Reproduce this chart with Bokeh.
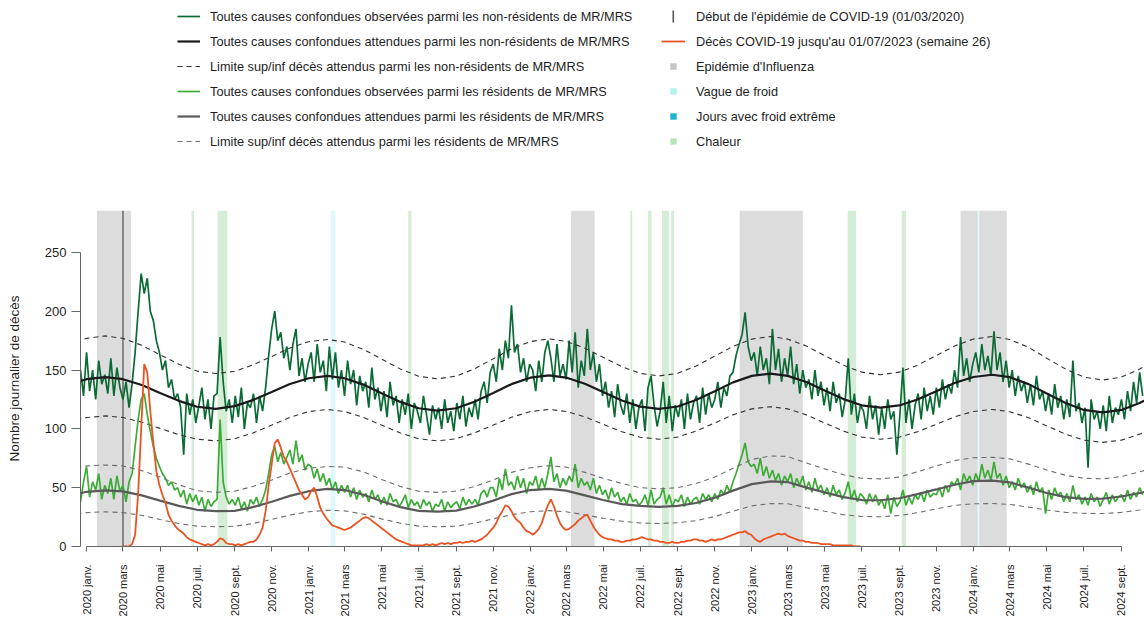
import math
import pandas as pd
from bokeh.plotting import figure
from bokeh.layouts import column
from bokeh.models import (Range1d, FixedTicker, CustomJSTickFormatter, Legend,
                          LegendItem, BoxAnnotation)
from bokeh.embed import file_html
from bokeh.resources import INLINE

# ------------------------------------------------------------------ data
obs_first_day = "2019-12-22"
obs_step = "5D"

# daily deaths, non-residents of MR/MRS (one reading every 5 days)
nonres_observed = [
    150, 128,
    165, 132, 150, 125, 158, 138, 146,
    130, 160, 128, 152, 135,
    125, 140, 118, 138, 165, 200, 232,
    215, 228, 200, 192, 175, 165,
    150, 158, 135, 142, 125, 130,
    118, 78, 130, 112, 125, 105,
    120, 135, 108, 125, 100, 128,
    130, 178, 140, 115, 125, 105,
    128, 110, 135, 100, 122, 118,
    130, 105, 128, 115, 135, 162,
    185, 200, 175, 182, 160, 170,
    150, 172, 185, 145, 160, 140, 155,
    165, 140, 172, 148, 158, 132,
    170, 142, 165, 135, 150,
    128, 158, 138, 150, 120, 145, 132,
    140, 118, 152, 125, 135, 115,
    132, 110, 140, 120, 128, 105,
    125, 112, 130, 100, 122, 115,
    105, 128, 112, 95, 120, 108,
    118, 100, 125, 105, 115, 98,
    122, 108, 128, 102, 118, 110,
    125, 108, 132, 140, 122, 148,
    155, 140, 168, 150, 175, 160,
    205, 165, 172, 148, 160, 140, 155,
    150, 132, 158, 140, 165, 175,
    160, 140, 172, 145, 155,
    142, 175, 148, 182, 135, 158, 145,
    185, 150, 165, 140, 155, 128,
    140, 118, 132, 110, 138, 120,
    112, 130, 105, 125, 100, 118,
    125, 98, 135, 145, 120, 102,
    115, 140, 105, 128, 98, 120,
    110, 125, 100, 130, 108, 122,
    128, 105, 135, 112, 130, 118,
    125, 140, 118, 135, 128, 145,
    148, 162, 172, 180, 199, 170, 158,
    165, 145, 170, 150, 160, 138,
    185, 150, 168, 140, 160,
    145, 170, 138, 155, 130, 150, 135,
    142, 125, 150, 128, 140, 120,
    135, 115, 140, 122, 130, 110,
    125, 160, 112, 130, 105, 120,
    115, 100, 128, 108, 120, 95,
    118, 100, 125, 108, 115, 78,
    112, 152, 105, 125, 100, 120,
    130, 108, 135, 115, 128, 112,
    135, 118, 142, 125, 138, 130,
    150, 135, 178, 145, 160, 140, 155,
    165, 148, 172, 150, 162, 145,
    183, 150, 165, 140, 158, 135,
    150, 128, 145, 132, 140, 122,
    138, 120, 145, 125, 132, 115,
    130, 112, 138, 118, 128, 108,
    125, 110, 158, 115, 122, 105,
    118, 67, 125, 108, 115, 100,
    120, 98, 128, 105, 118, 112,
    125, 108, 132, 115, 140, 122,
    148, 128,
]

# daily deaths, residents of MR/MRS (one reading every 5 days)
res_observed = [
    38, 55,
    68, 42, 55, 48, 62, 40, 52,
    45, 58, 40, 60, 47,
    52, 38, 55, 62, 85, 108, 125,
    130, 112, 98, 85, 75, 68,
    62, 58, 52, 55, 48, 50,
    42, 48, 36, 45, 38, 44,
    35, 42, 30, 40, 34, 38,
    40, 108, 55, 42, 36, 40,
    35, 42, 32, 38, 30, 40,
    36, 42, 34, 40, 48, 62,
    78, 85, 72, 80, 70, 76,
    82, 70, 90, 72, 78, 65, 70,
    68, 58, 66, 55, 62, 52,
    58, 48, 55, 45, 52,
    46, 52, 42, 50, 40, 48, 42,
    45, 38, 48, 40, 44, 36,
    42, 35, 45, 38, 40, 34,
    38, 44, 33, 40, 35, 38,
    32, 40, 35, 38, 30, 36,
    34, 40, 30, 38, 33, 36,
    38, 32, 42, 35, 40, 36,
    40, 35, 45, 48, 42, 50,
    50, 42, 58, 48, 66, 52,
    55, 48, 60, 50, 58, 45, 55,
    52, 60, 48, 58, 50, 62,
    76, 55, 62, 50, 58,
    52, 60, 55, 70, 50, 58, 52,
    55, 48, 58, 45, 52, 44,
    48, 40, 50, 42, 46, 38,
    42, 36, 45, 38, 40, 35,
    38, 44, 35, 48, 36, 40,
    42, 50, 36, 44, 34, 40,
    38, 44, 34, 42, 36, 40,
    42, 36, 45, 40, 44, 38,
    45, 40, 48, 44, 52, 46,
    55, 62, 70, 78, 88, 72, 68,
    70, 62, 75, 60, 68, 58,
    65, 56, 62, 52, 60,
    55, 62, 50, 58, 52, 60, 48,
    55, 46, 58, 48, 52, 44,
    50, 42, 52, 44, 48, 40,
    46, 55, 40, 48, 38, 45,
    42, 36, 45, 38, 44, 35,
    40, 32, 44, 28, 42, 34,
    38, 48, 35, 42, 36, 44,
    40, 46, 38, 48, 42, 45,
    44, 50, 42, 52, 46, 55,
    52, 58, 48, 62, 55, 60, 52,
    62, 55, 70, 58, 65, 56,
    72, 58, 62, 52, 60, 50,
    55, 48, 58, 50, 54, 46,
    52, 44, 55, 46, 50, 28,
    48, 40, 50, 43, 46, 38,
    45, 38, 52, 40, 44, 36,
    42, 35, 45, 38, 42, 34,
    40, 46, 36, 44, 38, 42,
    44, 38, 48, 40, 46, 42,
    50, 44,
]

covid_first_day = "2020-03-01"
covid_deaths = [
    0, 0, 0, 2, 10, 45, 100,
    155, 148, 115, 88, 64, 52,
    44, 37, 27, 22, 18, 15,
    13, 11, 8, 6, 5, 4,
    3, 2, 1, 2, 1, 2,
    4, 7, 6, 3, 2, 2,
    1, 2, 1, 2, 3, 4,
    4, 6, 10, 16, 30, 52,
    70, 88, 91, 84, 76, 72,
    66, 60, 54, 48, 44, 40, 42,
    47, 50, 42, 33, 28, 24,
    21, 18, 17, 16, 15,
    14, 15, 16, 18, 20, 22, 24,
    25, 24, 22, 20, 18, 16,
    14, 12, 10, 8, 6, 5,
    4, 3, 2, 1, 1, 1,
    1, 1, 2, 1, 2, 1,
    2, 3, 2, 3, 2, 3,
    3, 4, 3, 4, 4, 5,
    4, 5, 6, 8, 10, 13,
    16, 20, 26, 30, 35, 34,
    30, 25, 22, 20, 16, 13, 12,
    10, 12, 15, 20, 28, 35,
    40, 34, 26, 20, 16,
    14, 15, 17, 19, 22, 24, 26,
    27, 22, 17, 13, 10, 8,
    7, 6, 6, 5, 5, 4,
    4, 5, 5, 6, 6, 7,
    8, 7, 6, 6, 5, 5,
    4, 4, 3, 3, 4, 3,
    3, 4, 4, 5, 5, 6,
    6, 5, 5, 4, 5, 6,
    5, 6, 6, 7, 8, 9,
    10, 11, 12, 12, 13, 11, 10,
    7, 5, 4, 6, 7, 8,
    9, 10, 11, 10, 11,
    9, 8, 7, 6, 5, 5, 4,
    4, 3, 3, 3, 2, 2,
    2, 2, 1, 1, 1, 1,
    1, 1, 1, 0, 0, 0,
]

# expected deaths and limits, read on the 1st of each month
curve_first_month = "2019-12-01"
nonres_expected = [
    137.5,
    142.2, 144, 142.2, 137.3, 130.5, 123.8, 118.8, 117, 119.3, 124.4, 131.3, 138.1,
    143, 145, 143, 137.6, 130.3, 122.9, 117.5, 115.5, 117.5, 123, 130.5, 138,
    143.5, 145.5, 143.6, 138.4, 131.3, 124.1, 118.9, 117, 119, 124.5, 132, 139.5,
    145, 147, 145, 139.8, 132.5, 125.3, 120, 118, 119.9, 125, 132, 139,
    144.1, 146, 143.9, 138, 130, 122, 116.1, 114, 116.1, 122, 130,
]
nonres_upper = [
    171,
    176.9, 179, 176.9, 171, 163, 155, 149.1, 147, 148.9, 154.3, 161.5, 168.8,
    174.1, 176, 173.8, 167.6, 159.3, 150.9, 144.7, 142.5, 144.8, 151, 159.5, 168,
    174.2, 176.5, 174.4, 168.6, 160.8, 152.9, 147.1, 145, 147.2, 153.4, 161.8, 170.1,
    176.3, 178.5, 176.3, 170.4, 162.3, 154.1, 148.2, 146, 148.2, 154.1, 162.3, 170.4,
    176.3, 178.5, 176, 169.3, 160, 150.8, 144, 141.5, 144, 150.8, 160,
]
nonres_lower = [
    105.7,
    109.6, 111, 109.6, 105.7, 100.4, 95.1, 91.2, 89.8, 91.6, 96.5, 103.2, 109.8,
    114.7, 116.5, 114.7, 109.8, 103.2, 96.5, 91.6, 89.8, 91.6, 96.5, 103.2, 109.8,
    114.7, 116.5, 114.8, 110.2, 103.9, 97.5, 92.9, 91.2, 93, 98.1, 105, 111.9,
    117, 118.8, 117, 111.9, 105, 98.1, 93, 91.2, 92.9, 97.5, 103.9, 110.2,
    114.8, 116.5, 114.6, 109.5, 102.5, 95.5, 90.4, 88.5, 90.4, 95.5, 102.5,
]
res_expected = [
    42.5,
    46.5, 47.7, 46.8, 43.5, 39, 34.5, 31.2, 30, 30.3, 33.5, 38, 43,
    47, 49, 48, 44, 38.5, 33.5, 30.3, 29.7, 30.5, 34, 39, 44.5,
    48, 49, 47.5, 43.5, 39.5, 36, 34.5, 33.7, 34.5, 37, 41.5, 47.5,
    53, 55.3, 54.8, 50, 46, 42, 39.5, 39.3, 41, 44.5, 48.5, 52.5,
    55.5, 56, 54.5, 50, 45.5, 42, 40.5, 40.7, 42.5, 45.5, 49,
]
res_upper = [
    64.5,
    68.5, 69.3, 68.5, 64.5, 59, 52.5, 47.5, 46, 47, 51, 56.5, 62.5,
    66.5, 68, 67.5, 63.5, 57, 51, 47, 46, 47, 51, 56.5, 63,
    67, 68.7, 67.5, 63, 58, 53.5, 50, 49, 50, 53.5, 59, 66.5,
    74, 77, 76.5, 71, 66, 61, 58, 57.5, 59, 63.5, 68.5, 73,
    75.5, 75.8, 74.5, 70, 65, 60.5, 58, 57.5, 59.5, 63.5, 68,
]
res_lower = [
    26,
    28.8, 29.5, 28.8, 26.5, 23, 19.5, 17.3, 16.8, 17.2, 19.5, 23, 26.8,
    29.5, 30.8, 30.3, 27.5, 23.5, 19.8, 17.3, 16.8, 17.3, 19.8, 23.5, 27,
    29.5, 30.5, 29.5, 27, 24, 21.5, 20, 19.6, 20.2, 22, 25.5, 30,
    34.5, 36.5, 36.3, 33, 30, 27, 25.5, 25.3, 26.3, 28.8, 32, 35,
    36.3, 36.5, 35.8, 33.5, 31, 29, 28.2, 28, 29, 31, 33.5,
]

covid_onset = "2020-03-01"
flu_start = ["2020-01-18", "2022-03-09", "2022-12-12", "2023-12-11"]
flu_end = ["2020-03-14", "2022-04-17", "2023-03-26", "2024-02-25"]
cold_start = ["2021-02-06", "2024-01-08"]
cold_end = ["2021-02-14", "2024-01-11"]
heat_start = ["2020-06-22", "2020-08-04", "2021-06-14", "2022-06-15",
              "2022-07-14", "2022-08-06", "2022-08-21", "2023-06-08", "2023-09-05"]
heat_end = ["2020-06-26", "2020-08-20", "2021-06-19", "2022-06-18",
            "2022-07-20", "2022-08-18", "2022-08-26", "2023-06-22", "2023-09-12"]

view_start, view_end = "2019-12-22", "2024-10-09"
tick_first, tick_last = "2020-01-01", "2024-09-01"
month_fr = {1: "janv.", 3: "mars", 5: "mai", 7: "juil.", 9: "sept.", 11: "nov."}
y_ticks = [0, 50, 100, 150, 200, 250]

legend_left_labels = [
    "Toutes causes confondues observées parmi les non-résidents de MR/MRS",
    "Toutes causes confondues attendues parmi les non-résidents de MR/MRS",
    "Limite sup/inf décès attendus parmi les non-résidents de MR/MRS",
    "Toutes causes confondues observées parmi les résidents de MR/MRS",
    "Toutes causes confondues attendues parmi les résidents de MR/MRS",
    "Limite sup/inf décès attendus parmi les résidents de MR/MRS",
]
legend_right_labels = [
    "Début de l'épidémie de COVID-19 (01/03/2020)",
    "Décès COVID-19 jusqu'au 01/07/2023 (semaine 26)",
    "Epidémie d'Influenza",
    "Vague de froid",
    "Jours avec froid extrême",
    "Chaleur",
]
y_title = "Nombre journalier de décès"


# ------------------------------------------------------------------ helpers
def ms(dates):
    idx = pd.DatetimeIndex(pd.to_datetime(dates)).as_unit("ns")
    return [float(v // 10**6) for v in idx.asi8]


obs_x = ms(pd.date_range(obs_first_day, periods=len(nonres_observed), freq=obs_step))
res_x = ms(pd.date_range(obs_first_day, periods=len(res_observed), freq=obs_step))
covid_x = ms(pd.date_range(covid_first_day, periods=len(covid_deaths), freq=obs_step))
curve_x = ms(pd.date_range(curve_first_month, periods=len(nonres_expected), freq="MS"))

tick_dates = pd.date_range(tick_first, tick_last, freq="2MS")
tick_ms = ms(tick_dates)
tick_labels = [f"{d.year} {month_fr[d.month]}" for d in tick_dates]

FONT = "Liberation Sans"
TXT = "#1e1e1e"
NAN = float("nan")

# styles
S_NR_OBS = dict(line_color="#0b6b35", line_width=1.7)
S_NR_EXP = dict(line_color="#1a1a1a", line_width=2.2)
S_NR_LIM = dict(line_color="#333333", line_width=1.1, line_dash="5 4")
S_R_OBS = dict(line_color="#3dab37", line_width=1.7)
S_R_EXP = dict(line_color="#5a5a5a", line_width=2.2)
S_R_LIM = dict(line_color="#6e6e6e", line_width=1.1, line_dash="5 4")
S_COV = dict(line_color="#eb5322", line_width=1.8)

# ------------------------------------------------------------------ main plot
Y_TOP = 285.6
p = figure(width=1144, height=409, output_backend="svg", toolbar_location=None,
           x_range=Range1d(ms([view_start])[0], ms([view_end])[0]),
           y_range=Range1d(0, Y_TOP),
           min_border_left=80, min_border_right=0, min_border_top=0,
           min_border_bottom=70, outline_line_color=None,
           background_fill_color="white", border_fill_color="white")
p.xgrid.visible = False
p.ygrid.visible = False

p.quad(left=ms(flu_start), right=ms(flu_end), bottom=0, top=Y_TOP,
       fill_color="#dcdcdc", line_color=None)
p.quad(left=ms(cold_start), right=ms(cold_end), bottom=0, top=Y_TOP,
       fill_color="#defafa", line_color=None)
p.quad(left=ms(heat_start), right=ms(heat_end), bottom=0, top=Y_TOP,
       fill_color="#d5edd5", line_color=None)

onset_x = ms([covid_onset])
p.segment(x0=onset_x, x1=onset_x, y0=[0], y1=[Y_TOP],
          line_color="#4d4d4d", line_width=1.2)

p.line(obs_x, nonres_observed, **S_NR_OBS)
p.line(curve_x, nonres_expected, **S_NR_EXP)
p.line(curve_x, nonres_upper, **S_NR_LIM)
p.line(curve_x, nonres_lower, **S_NR_LIM)
p.line(res_x, res_observed, **S_R_OBS)
p.line(curve_x, res_expected, **S_R_EXP)
p.line(curve_x, res_upper, **S_R_LIM)
p.line(curve_x, res_lower, **S_R_LIM)
p.line(covid_x, covid_deaths, **S_COV)

p.yaxis.ticker = FixedTicker(ticks=y_ticks)
p.yaxis.bounds = (y_ticks[0], y_ticks[-1])
p.yaxis.major_tick_out = 9
p.yaxis.major_tick_in = 0
p.yaxis.minor_tick_line_color = None
p.yaxis.major_label_standoff = 5
p.yaxis.major_label_text_font = FONT
p.yaxis.major_label_text_font_size = "13px"
p.yaxis.major_label_text_color = TXT
p.yaxis.axis_line_color = "#666666"
p.yaxis.major_tick_line_color = "#666666"
p.yaxis.axis_label = y_title
p.yaxis.axis_label_text_font = FONT
p.yaxis.axis_label_text_font_style = "normal"
p.yaxis.axis_label_text_font_size = "13.5px"
p.yaxis.axis_label_text_color = TXT
p.yaxis.axis_label_standoff = 20

p.xaxis.ticker = FixedTicker(ticks=tick_ms)
p.xaxis.formatter = CustomJSTickFormatter(
    args=dict(tick_vals=tick_ms, tick_text=tick_labels),
    code="const i = tick_vals.indexOf(tick); return i >= 0 ? tick_text[i] : '';")
p.xaxis.bounds = (tick_ms[0], tick_ms[-1])
p.xaxis.major_label_orientation = math.pi / 2
p.xaxis.major_tick_out = 5
p.xaxis.major_tick_in = 0
p.xaxis.minor_tick_line_color = None
p.xaxis.major_label_standoff = 13
p.xaxis.major_label_text_font = FONT
p.xaxis.major_label_text_font_size = "11px"
p.xaxis.major_label_text_color = TXT
p.xaxis.axis_line_color = "#666666"
p.xaxis.major_tick_line_color = "#666666"

# ------------------------------------------------------------------ legend panel
# (its frame is aligned with the main plot's frame, i.e. starts 80 px from the left)
lg = figure(width=1144, height=210, output_backend="svg", toolbar_location=None,
            x_axis_location=None, y_axis_location=None, min_border=0,
            x_range=Range1d(0, 1), y_range=Range1d(0, 1), outline_line_color=None,
            background_fill_color="white", border_fill_color="white")
lg.xgrid.visible = False
lg.ygrid.visible = False

# swatch-only renderers (NaN data: nothing is drawn in the panel itself)
left_r = [lg.line([NAN], [NAN], **s) for s in (S_NR_OBS, S_NR_EXP, S_NR_LIM,
                                               S_R_OBS, S_R_EXP, S_R_LIM)]
right_r = [
    lg.line([NAN], [NAN], line_alpha=0),
    lg.line([NAN], [NAN], **S_COV),
    lg.scatter([NAN], [NAN], marker="square", fill_color="#c6c6c6", line_color=None),
    lg.scatter([NAN], [NAN], marker="square", fill_color="#b2f3ef", line_color=None),
    lg.scatter([NAN], [NAN], marker="square", fill_color="#1ab4cc", line_color=None),
    lg.scatter([NAN], [NAN], marker="square", fill_color="#b9e6b9", line_color=None),
]

common = dict(orientation="vertical", glyph_height=16, label_height=16, spacing=9,
              padding=0, margin=0, border_line_alpha=0, background_fill_alpha=0,
              label_text_font=FONT, label_text_font_size="12.75px",
              label_text_color=TXT)
lg.add_layout(Legend(items=[LegendItem(label=l, renderers=[r])
                            for l, r in zip(legend_left_labels, left_r)],
                     location=(97, 61), glyph_width=23, label_standoff=10, **common))
lg.add_layout(Legend(items=[LegendItem(label=l, renderers=[r])
                            for l, r in zip(legend_right_labels, right_r)],
                     location=(581, 61), glyph_width=24, label_standoff=11, **common))
# vertical bar symbol for the COVID onset entry
lg.add_layout(BoxAnnotation(left=592.0, right=593.6, bottom=188, top=200,
                            left_units="screen", right_units="screen",
                            bottom_units="screen", top_units="screen",
                            fill_color="#555555", fill_alpha=1, line_color=None))

layout = column(lg, p, spacing=0)
open("out.html", "w").write(file_html(layout, INLINE, title="Décès journaliers MR/MRS"))
